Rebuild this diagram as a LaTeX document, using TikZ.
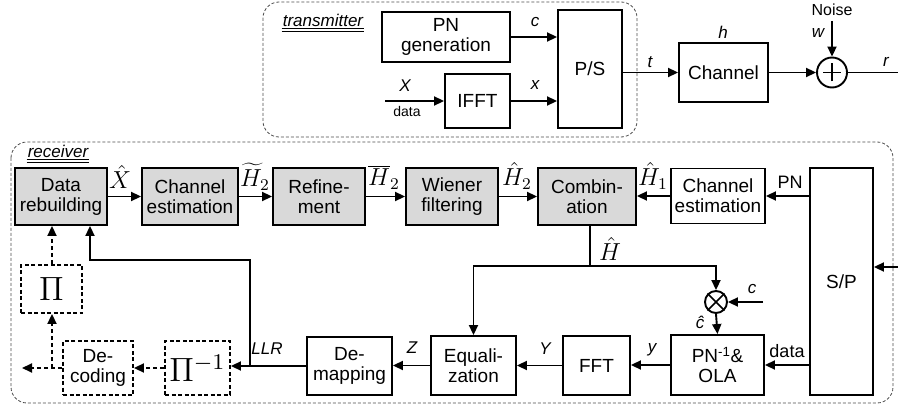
\documentclass[tikz,border=0pt]{standalone}
\usepackage{fontspec}
\setmainfont{Liberation Sans}
\usetikzlibrary{arrows.meta,calc}
\tikzset{
 blk/.style={draw, line width=1.9pt, align=center, inner sep=0pt, font=\fontsize{19}{20}\selectfont},
 gblk/.style={blk, fill=black!15},
 dblk/.style={blk, dash pattern=on 4pt off 2.5pt},
 conn/.style={line width=1.9pt, -{Triangle[length=10pt,width=9pt]}},
 dconn/.style={conn, dash pattern=on 4pt off 3pt},
 plain/.style={line width=1.9pt},
 lab/.style={font=\fontsize{17}{17}\selectfont\itshape, inner sep=1pt},
 ulab/.style={font=\fontsize{18}{18}\selectfont, inner sep=1pt},
 mlab/.style={font=\fontsize{12}{12}\selectfont, scale=2.05, inner sep=0pt},
 pilab/.style={font=\fontsize{12}{12}\selectfont, scale=2.8, inner sep=0pt},
 frame/.style={draw=black!70, dash pattern=on 3pt off 2pt, line width=0.8pt, rounded corners=16pt},
 opcirc/.style={draw, circle, line width=1.9pt, inner sep=0pt},
}
\begin{document}
\begin{tikzpicture}[x=1pt,y=-1pt]
\useasboundingbox (0,0) rectangle (898,409);
% frames
\draw[frame] (263,2) rectangle (637,137);
\draw[frame] (11,142) rectangle (893,403);
\node[lab] (txl) at (323,20) {transmitter};
\draw[line width=0.8pt] ([yshift=-1pt]txl.south west) -- ([yshift=-1pt]txl.south east);
\draw[line width=0.8pt] ([yshift=-3.5pt]txl.south west) -- ([yshift=-3.5pt]txl.south east);
\node[lab] (rxl) at (58,151) {receiver};
\draw[line width=0.8pt] ([yshift=-1pt]rxl.south west) -- ([yshift=-1pt]rxl.south east);
\draw[line width=0.8pt] ([yshift=-3.5pt]rxl.south west) -- ([yshift=-3.5pt]rxl.south east);

% transmitter
\node[blk, minimum width=128pt, minimum height=50pt] (pn) at (446,37) {PN\\generation};
\node[blk, minimum width=65pt, minimum height=54pt] (ifft) at (477.5,101) {IFFT};
\node[blk, minimum width=64pt, minimum height=118pt] (ps) at (590,69) {P/S};
\node[blk, minimum width=89pt, minimum height=59pt] (chan) at (723.5,72.5) {Channel};
\node[opcirc, minimum size=30pt] (sum) at (832,72.5) {};
\draw[line width=1.5pt] ([yshift=-9pt]sum.center) -- ([yshift=9pt]sum.center);
\draw[line width=1.5pt] ([xshift=-9pt]sum.center) -- ([xshift=9pt]sum.center);
\coordinate (xin) at (385,101);
\coordinate (noise) at (832,21);
\coordinate (rout) at (898,72.5);
\draw[conn] (pn.east) -- (pn.east -| ps.west);
\draw[conn] (xin) -- (ifft.west);
\draw[conn] (ifft.east) -- (ifft.east -| ps.west);
\draw[conn] (ps.east |- chan.west) -- (chan.west);
\draw[conn] (chan.east) -- (sum.west);
\draw[conn] (noise) -- (sum.north);
\draw[plain] (sum.east) -- (rout);
\node[lab] at (535,22) {c};
\node[lab] at (535,85) {x};
\node[lab] at (405,86) {X};
\node[font=\fontsize{14}{14}\selectfont, inner sep=0pt] at (407,111) {data};
\node[lab] at (650,62) {t};
\node[lab] at (723,32) {h};
\node[font=\fontsize{16}{16}\selectfont, inner sep=0pt] at (832,10) {Noise};
\node[lab] at (818,33) {w};
\node[lab] at (886,62) {r};

% receiver top row
\node[gblk, minimum width=92pt, minimum height=57pt] (drb) at (61,196.5) {Data\\rebuilding};
\node[gblk, minimum width=96pt, minimum height=57pt] (ce1) at (190,196.5) {Channel\\estimation};
\node[gblk, minimum width=92pt, minimum height=57pt] (ref) at (319,196.5) {Refine-\\ment};
\node[gblk, minimum width=92pt, minimum height=57pt] (wf) at (452,196.5) {Wiener\\filtering};
\node[gblk, minimum width=98pt, minimum height=57pt] (comb) at (587,196.5) {Combin-\\ation};
\node[blk, minimum width=94pt, minimum height=55pt] (ce2) at (718,196) {Channel\\estimation};
\node[blk, minimum width=63pt, minimum height=227pt] (sp) at (841.5,281.5) {S/P};
% bottom row
\node[blk, minimum width=93pt, minimum height=60pt] (pnola) at (717.5,365) {PN\textsuperscript{-1}\&\\OLA};
\node[blk, minimum width=67pt, minimum height=59pt] (fft) at (596.5,365.5) {FFT};
\node[blk, minimum width=85pt, minimum height=59pt] (eq) at (473.5,365.5) {Equali-\\zation};
\node[blk, minimum width=85pt, minimum height=58pt] (dm) at (349.5,366) {De-\\mapping};
\node[dblk, minimum width=65pt, minimum height=54pt] (pii) at (197.5,368) {};
\node[pilab] (piit) at (pii.center) {$\Pi^{-1}$};
\node[dblk, minimum width=70pt, minimum height=54pt] (dec) at (98,368) {De-\\coding};
\node[dblk, minimum width=61pt, minimum height=48pt] (pi) at (51.5,289) {};
\node[pilab] (pit) at (pi.center) {$\Pi$};
\node[opcirc, minimum size=22pt] (mult) at (716,302) {};
\draw[line width=1.5pt] (mult.north west) -- (mult.south east);
\draw[line width=1.5pt] (mult.north east) -- (mult.south west);

% top row arrows
\draw[conn] (drb.east) -- (ce1.west);
\draw[conn] (ce1.east) -- (ref.west);
\draw[conn] (ref.east) -- (wf.west);
\draw[conn] (wf.east) -- (comb.west);
\draw[conn] (ce2.west) -- (ce2.west -| comb.east);
\draw[conn] (ce2.east -| sp.west) -- (ce2.east);
% input to S/P
\coordinate (rin) at (898,267);
\draw[conn] (rin) -- (rin -| sp.east);
% H hat distribution
\coordinate (hj) at (590,266);
\draw[plain] (hj |- comb.south) -- (hj);
\draw[conn] (hj) -| (mult.north);
\draw[conn] (hj) -| (eq.north);
\coordinate (cin) at (763,302);
\draw[conn] (cin) -- (mult.east);
\draw[conn] (mult.south) -- (pnola.north);
% bottom row arrows
\draw[conn] (pnola.east -| sp.west) -- (pnola.east);
\draw[conn] (pnola.west) -- (pnola.west -| fft.east);
\draw[conn] (fft.west) -- (fft.west -| eq.east);
\draw[conn] (eq.west) -- (eq.west -| dm.east);
\draw[conn] (dm.west) -- (dm.west -| pii.east);
\coordinate (llrj) at (250,366);
\coordinate (fb) at (250,260);
\draw[conn] (llrj) -- (fb) -| ([xshift=29pt]drb.south);
\draw[dconn] (pii.west) -- (pii.west -| dec.east);
\coordinate (dout) at (22,368);
\coordinate (dj) at (52,368);
\draw[dconn] (dec.west) -- (dout);
\draw[dconn] (dj) -- (dj |- pi.south);
\draw[dconn] (pi.north -| dj) -- (dj |- drb.south);

% labels receiver
\node[mlab] at (120,177) {$\hat{X}$};
\node[mlab] at (255,177) {$\widetilde{H}_2$};
\node[mlab] at (384,177) {$\overline{H}_2$};
\node[mlab] at (517,176) {$\hat{H}_2$};
\node[mlab] at (653,176) {$\hat{H}_1$};
\node[ulab] at (790,182) {PN};
\node[mlab] at (610,249) {$\hat{H}$};
\node[lab] at (752,289) {c};
\node[lab] at (700,322) {\^{c}};
\node[ulab] at (787,351) {data};
\node[lab] at (652,350) {y};
\node[lab] at (545,349) {Y};
\node[lab] at (412,348) {Z};
\node[lab] at (267,349) {LLR};
\end{tikzpicture}
\end{document}
